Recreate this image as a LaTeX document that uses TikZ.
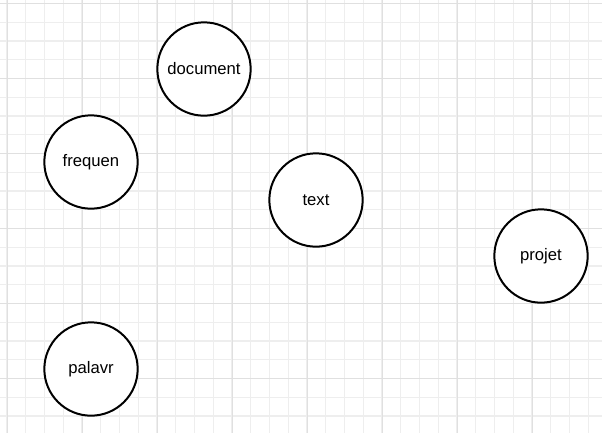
\documentclass[tikz,border=0pt]{standalone}
\usepackage{fontspec}
\setmainfont{Liberation Sans}
\tikzset{
  termo/.style={draw, circle, line width=1.5pt, fill=white, minimum size=70pt, inner sep=0pt, font=\fontsize{12.5}{14}\selectfont},
  gridmenor/.style={gray!13, line width=0.9pt},
  gridmaior/.style={gray!24, line width=0.6pt}
}
\begin{document}
\begin{tikzpicture}[x=0.75pt, y=-0.75pt]
    \useasboundingbox (0,0) rectangle (602,433);
    \fill[white] (0,0) rectangle (602,433);

    % Grade de fundo
    \foreach \i in {0,...,31} {
        \draw[gridmenor] ({7+18.75*\i},0) -- ({7+18.75*\i},433);
    }
    \foreach \j in {0,...,22} {
        \draw[gridmenor] (0,{3.5+18.75*\j}) -- (602,{3.5+18.75*\j});
    }
    \foreach \i in {0,...,7} {
        \draw[gridmaior] ({7+75*\i},0) -- ({7+75*\i},433);
    }
    \foreach \j in {0,...,5} {
        \draw[gridmaior] (0,{3.5+75*\j}) -- (602,{3.5+75*\j});
    }

    % Termos
    \node[termo] (document) at (204,69) {document};
    \node[termo] (frequen) at (91,162) {frequen};
    \node[termo] (text) at (316,200) {text};
    \node[termo] (projet) at (541,256) {projet};
    \node[termo] (palavr) at (91,369) {palavr};
\end{tikzpicture}
\end{document}
